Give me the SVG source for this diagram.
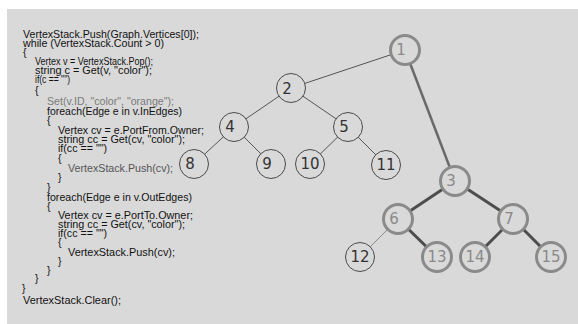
<svg xmlns="http://www.w3.org/2000/svg" width="578" height="324" viewBox="0 0 578 324">
<style>
.code{font-family:"Liberation Sans",Arial,sans-serif;font-size:10.5px;fill:#111}
.thin circle{fill:#d9d9d9;stroke:#4a4a4a;stroke-width:1}
.thick circle{fill:#d9d9d9;stroke:#8a8a8a;stroke-width:3}
.thin text,.thick text{font-family:"DejaVu Sans",Verdana,sans-serif;font-size:15px;text-anchor:middle}
.thin text{fill:#333}
.thick text{fill:#8a8a8a}
.e1{stroke:#555;stroke-width:1;fill:none}
.e2{stroke:#6a6a6a;stroke-width:2.5;fill:none}
.e3{stroke:#4d4d4d;stroke-width:3;fill:none}
.e4{stroke:#8a8a8a;stroke-width:1;fill:none}
</style>
<rect x="0" y="0" width="578" height="324" fill="#ffffff"/>
<rect x="7" y="9" width="571" height="315" fill="#d9d9d9"/>
<g id="code">
<text class="code" x="23" y="38" textLength="176" lengthAdjust="spacingAndGlyphs">VertexStack.Push(Graph.Vertices[0]);</text>
<text class="code" x="23" y="47" textLength="141" lengthAdjust="spacingAndGlyphs">while (VertexStack.Count &gt; 0)</text>
<text class="code" x="23" y="56">{</text>
<text class="code" x="35" y="65" textLength="118" lengthAdjust="spacingAndGlyphs">Vertex v = VertexStack.Pop();</text>
<text class="code" x="35" y="74" textLength="117" lengthAdjust="spacingAndGlyphs">string c = Get(v, "color");</text>
<text class="code" x="35" y="83" textLength="35" lengthAdjust="spacingAndGlyphs">if(c == "")</text>
<text class="code" x="35" y="94">{</text>
<text class="code" x="47" y="105" textLength="127" lengthAdjust="spacingAndGlyphs" style="fill:#7a7a7a">Set(v.ID, "color", "orange");</text>
<text class="code" x="47" y="115" textLength="135" lengthAdjust="spacingAndGlyphs">foreach(Edge e in v.InEdges)</text>
<text class="code" x="47" y="124">{</text>
<text class="code" x="58" y="134" textLength="146" lengthAdjust="spacingAndGlyphs">Vertex cv = e.PortFrom.Owner;</text>
<text class="code" x="58" y="143" textLength="127" lengthAdjust="spacingAndGlyphs">string cc = Get(cv, "color");</text>
<text class="code" x="58" y="152" textLength="49" lengthAdjust="spacingAndGlyphs">if(cc == "")</text>
<text class="code" x="58" y="162">{</text>
<text class="code" x="68" y="172" textLength="105" lengthAdjust="spacingAndGlyphs" style="fill:#555">VertexStack.Push(cv);</text>
<text class="code" x="58" y="181">}</text>
<text class="code" x="47" y="191">}</text>
<text class="code" x="47" y="201" textLength="145" lengthAdjust="spacingAndGlyphs">foreach(Edge e in v.OutEdges)</text>
<text class="code" x="47" y="210">{</text>
<text class="code" x="58" y="219" textLength="135" lengthAdjust="spacingAndGlyphs">Vertex cv = e.PortTo.Owner;</text>
<text class="code" x="58" y="228" textLength="127" lengthAdjust="spacingAndGlyphs">string cc = Get(cv, "color");</text>
<text class="code" x="58" y="237" textLength="49" lengthAdjust="spacingAndGlyphs">if(cc == "")</text>
<text class="code" x="58" y="246">{</text>
<text class="code" x="68" y="256" textLength="107" lengthAdjust="spacingAndGlyphs">VertexStack.Push(cv);</text>
<text class="code" x="58" y="265">}</text>
<text class="code" x="47" y="274">}</text>
<text class="code" x="35" y="282">}</text>
<text class="code" x="22" y="292">}</text>
<text class="code" x="23" y="304" textLength="98" lengthAdjust="spacingAndGlyphs">VertexStack.Clear();</text>
</g>
<g id="connectors">
<line class="e1" x1="405" y1="50" x2="291" y2="88"/>
<line class="e2" x1="405" y1="50" x2="455" y2="181"/>
<line class="e1" x1="291" y1="88" x2="234" y2="127"/>
<line class="e1" x1="291" y1="88" x2="348" y2="127"/>
<line class="e1" x1="234" y1="127" x2="194" y2="164"/>
<line class="e1" x1="234" y1="127" x2="271" y2="164"/>
<line class="e1" x1="348" y1="127" x2="310" y2="164"/>
<line class="e1" x1="348" y1="127" x2="386" y2="165"/>
<line class="e3" x1="455" y1="181" x2="398" y2="219"/>
<line class="e3" x1="455" y1="181" x2="513" y2="219"/>
<line class="e4" x1="398" y1="219" x2="360" y2="257"/>
<line class="e3" x1="398" y1="219" x2="437" y2="257"/>
<line class="e3" x1="513" y1="219" x2="475" y2="257"/>
<line class="e3" x1="513" y1="219" x2="551" y2="257"/>
</g>
<g id="n1" class="thick"><circle cx="405" cy="50" r="14.5"/><text x="401" y="55">1</text></g>
<g id="n2" class="thin"><circle cx="291" cy="88" r="14.5"/><text x="287" y="94">2</text></g>
<g id="n3" class="thick"><circle cx="455" cy="181" r="14.5"/><text x="451" y="186">3</text></g>
<g id="n4" class="thin"><circle cx="234" cy="127" r="14.5"/><text x="230" y="132">4</text></g>
<g id="n5" class="thin"><circle cx="348" cy="127" r="14.5"/><text x="344" y="132">5</text></g>
<g id="n6" class="thick"><circle cx="398" cy="219" r="14.5"/><text x="394" y="224">6</text></g>
<g id="n7" class="thick"><circle cx="513" cy="219" r="14.5"/><text x="509" y="224">7</text></g>
<g id="n8" class="thin"><circle cx="194" cy="164" r="14.5"/><text x="190" y="169">8</text></g>
<g id="n9" class="thin"><circle cx="271" cy="164" r="14.5"/><text x="267" y="169">9</text></g>
<g id="n10" class="thin"><circle cx="310" cy="164" r="14.5"/><text x="310" y="169">10</text></g>
<g id="n11" class="thin"><circle cx="386" cy="165" r="14.5"/><text x="386" y="170">11</text></g>
<g id="n12" class="thin"><circle cx="360" cy="257" r="14.5"/><text x="360" y="262">12</text></g>
<g id="n13" class="thick"><circle cx="437" cy="257" r="14.5"/><text x="437" y="262">13</text></g>
<g id="n14" class="thick"><circle cx="475" cy="257" r="14.5"/><text x="475" y="262">14</text></g>
<g id="n15" class="thick"><circle cx="551" cy="257" r="14.5"/><text x="551" y="262">15</text></g>
</svg>
